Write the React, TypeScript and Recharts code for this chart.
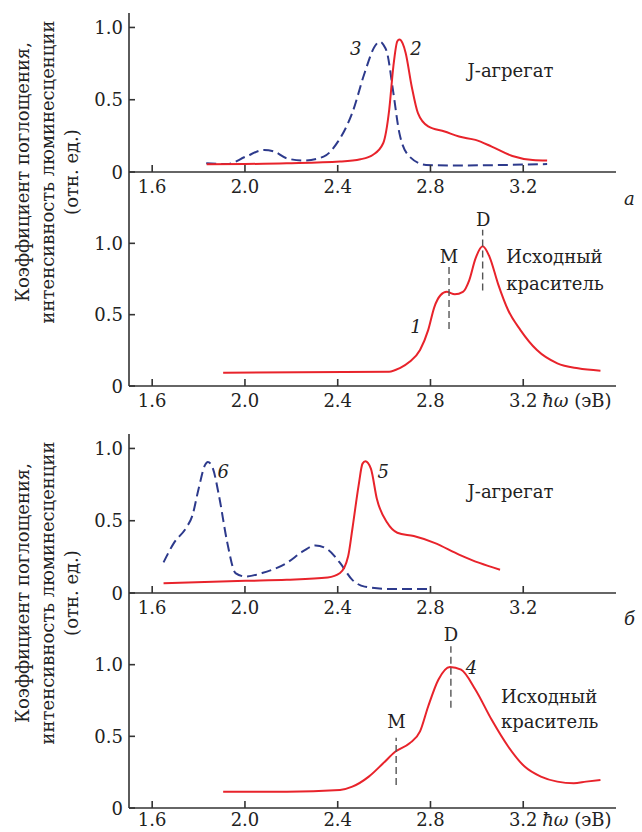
import React from "react";
import { LineChart, Line, XAxis, YAxis, ReferenceLine, ReferenceDot } from "recharts";

const FONT = "'DejaVu Serif', serif";
const FS = 18;
const RED = "#e8232b";
const BLUE = "#2d3a8c";
const INK = "#222";

const xTicks = [1.6, 2.0, 2.4, 2.8, 3.2];
const yTicks = [0, 0.5, 1.0];

// panel a, J-aggregate: curve 3 (dashed) and curve 2
const e3 = [1.833, 1.924, 2.003, 2.083, 2.127, 2.18, 2.251, 2.339, 2.401, 2.463, 2.516, 2.56, 2.575, 2.585, 2.597, 2.613, 2.64, 2.666, 2.71, 2.781, 2.888, 3.303];
const i3 = [0.06, 0.055, 0.106, 0.153, 0.141, 0.095, 0.079, 0.106, 0.21, 0.41, 0.685, 0.87, 0.897, 0.9, 0.88, 0.824, 0.547, 0.269, 0.106, 0.049, 0.045, 0.055];
const e2 = [1.835, 2.18, 2.41, 2.498, 2.551, 2.596, 2.622, 2.64, 2.657, 2.666, 2.68, 2.693, 2.719, 2.746, 2.79, 2.861, 2.923, 2.994, 3.064, 3.153, 3.241, 3.303];
const i2 = [0.053, 0.06, 0.072, 0.088, 0.118, 0.199, 0.43, 0.731, 0.905, 0.917, 0.89, 0.824, 0.592, 0.407, 0.315, 0.28, 0.245, 0.222, 0.176, 0.111, 0.083, 0.079];

// panel a, source dye: curve 1
const e1 = [1.906, 2.622, 2.666, 2.71, 2.755, 2.79, 2.817, 2.843, 2.87, 2.905, 2.94, 2.967, 2.994, 3.025, 3.055, 3.091, 3.135, 3.188, 3.259, 3.347, 3.436, 3.533];
const i1 = [0.093, 0.1, 0.124, 0.17, 0.252, 0.392, 0.555, 0.636, 0.66, 0.643, 0.66, 0.741, 0.893, 0.979, 0.904, 0.718, 0.531, 0.392, 0.252, 0.159, 0.124, 0.107];

// panel б, J-aggregate: curve 6 (dashed) and curve 5
const e6 = [1.649, 1.694, 1.747, 1.773, 1.8, 1.827, 1.84, 1.862, 1.888, 1.924, 1.959, 2.003, 2.074, 2.18, 2.251, 2.304, 2.357, 2.41, 2.463, 2.516, 2.622, 2.799];
const i6 = [0.212, 0.347, 0.452, 0.534, 0.72, 0.883, 0.907, 0.86, 0.673, 0.347, 0.138, 0.114, 0.138, 0.208, 0.289, 0.329, 0.301, 0.208, 0.091, 0.044, 0.028, 0.028];
const e5 = [1.649, 2.003, 2.18, 2.357, 2.41, 2.445, 2.463, 2.49, 2.507, 2.519, 2.543, 2.569, 2.613, 2.657, 2.728, 2.817, 2.923, 3.011, 3.1];
const i5 = [0.068, 0.084, 0.091, 0.107, 0.138, 0.254, 0.441, 0.743, 0.895, 0.911, 0.86, 0.65, 0.487, 0.417, 0.394, 0.347, 0.266, 0.208, 0.161];

// panel б, source dye: curve 4
const e4 = [1.906, 2.18, 2.41, 2.463, 2.534, 2.596, 2.649, 2.71, 2.755, 2.79, 2.834, 2.884, 2.932, 2.994, 3.064, 3.135, 3.206, 3.276, 3.347, 3.418, 3.471, 3.533];
const i4 = [0.114, 0.114, 0.126, 0.149, 0.219, 0.312, 0.394, 0.452, 0.534, 0.708, 0.895, 0.984, 0.965, 0.825, 0.615, 0.429, 0.289, 0.219, 0.184, 0.173, 0.184, 0.196];

const zip = (e: number[], v: number[]) => e.map((x, i) => ({ x, y: v[i] }));

type Series = { data: { x: number; y: number }[]; dashed?: boolean };
type Note = { x: number; y: number; text: string; italic?: boolean; anchor?: "start" | "middle" };
type Mark = { x: number; y1: number; y2: number };

function XTick(props: any) {
  const { x, y, payload, unit, dy } = props;
  const v = payload.value as number;
  return (
    <g>
      <text x={x} y={y + dy} textAnchor="middle" fontSize={FS} fill={INK} fontFamily={FONT}>
        {v.toFixed(1)}
      </text>
      {unit && v === 3.2 && (
        <text x={x + 19} y={y + dy} fontSize={FS} fill={INK} fontFamily={FONT}>
          <tspan fontStyle="italic">ħω</tspan> (эВ)
        </text>
      )}
    </g>
  );
}

function YTick(props: any) {
  const { x, y, payload } = props;
  const v = payload.value as number;
  return (
    <text x={x} y={y + 6.5} textAnchor="end" fontSize={FS} fill={INK} fontFamily={FONT}>
      {v === 0 ? "0" : v.toFixed(1)}
    </text>
  );
}

function Plot(props: {
  top: number;
  padTop: number;
  plotH: number;
  yMax: number;
  series: Series[];
  notes: Note[];
  marks?: Mark[];
  frameTop?: boolean;
  unit?: boolean;
  labelDy?: number;
}) {
  const { top, padTop, plotH, yMax, series, notes, marks = [], frameTop, unit, labelDy = 21 } = props;
  const h = padTop + plotH + 30;
  const axis = { stroke: "#333", strokeWidth: 1.6 };
  return (
    <div style={{ position: "absolute", left: 0, top, width: 642, height: h }}>
      <LineChart width={642} height={h} margin={{ top: padTop, right: 26, bottom: 0, left: 89 }}>
        <XAxis
          type="number"
          dataKey="x"
          domain={[1.5, 3.6]}
          ticks={xTicks}
          height={30}
          axisLine={axis}
          tickLine={axis}
          tickSize={-7}
          tickMargin={7}
          tick={<XTick unit={unit} dy={labelDy} />}
          interval={0}
        />
        {frameTop && (
          <XAxis xAxisId="top" orientation="top" type="number" domain={[1.5, 3.6]} height={0} tick={false} tickLine={false} axisLine={axis} />
        )}
        <YAxis
          type="number"
          domain={[0, yMax]}
          ticks={yTicks}
          width={40}
          axisLine={axis}
          tickLine={axis}
          tickSize={-6}
          tickMargin={12}
          tick={<YTick />}
          interval={0}
        />
        <YAxis yAxisId="right" orientation="right" type="number" domain={[0, 1]} width={0} tick={false} tickLine={false} axisLine={axis} />
        {series.map((s, k) => (
          <Line
            key={k}
            data={s.data}
            dataKey="y"
            type="monotone"
            stroke={s.dashed ? BLUE : RED}
            strokeWidth={2}
            strokeDasharray={s.dashed ? "10 5" : undefined}
            dot={false}
            activeDot={false}
            isAnimationActive={false}
          />
        ))}
        {marks.map((m, k) => (
          <ReferenceLine
            key={"m" + k}
            segment={[{ x: m.x, y: m.y1 }, { x: m.x, y: m.y2 }]}
            stroke="#555"
            strokeWidth={1.4}
            strokeDasharray="7 4"
            ifOverflow="visible"
          />
        ))}
        {notes.map((n, k) => (
          <ReferenceDot
            key={"n" + k}
            x={n.x}
            y={n.y}
            r={0}
            ifOverflow="visible"
            shape={(p: any) => (
              <text
                x={p.cx}
                y={p.cy}
                dy="0.35em"
                textAnchor={n.anchor || "middle"}
                fontSize={FS}
                fontStyle={n.italic ? "italic" : "normal"}
                fill={INK}
                fontFamily={FONT}
              >
                {n.text}
              </text>
            )}
          />
        ))}
      </LineChart>
    </div>
  );
}

function YLabel({ cy }: { cy: number }) {
  return (
    <div
      style={{
        position: "absolute",
        left: 48,
        top: cy,
        transform: "translate(-50%, -50%) rotate(-90deg)",
        whiteSpace: "nowrap",
        textAlign: "center",
        fontFamily: FONT,
        fontSize: FS,
        lineHeight: "24.5px",
        color: INK,
      }}
    >
      Коэффициент поглощения,
      <br />
      интенсивность люминесценции
      <br />
      (отн. ед.)
    </div>
  );
}

export default function App() {
  const tag = { position: "absolute" as const, left: 624, fontFamily: FONT, fontSize: FS, fontStyle: "italic", color: INK };
  return (
    <div style={{ position: "absolute", left: 0, top: 0, width: 642, height: 832, overflow: "hidden", background: "#fff" }}>
      <YLabel cy={172} />
      <YLabel cy={593} />
      <div style={{ ...tag, top: 188 }}>a</div>
      <div style={{ ...tag, top: 608 }}>б</div>

      <Plot
        top={0}
        padTop={13}
        plotH={159}
        yMax={1.1}
        frameTop
        series={[{ data: zip(e3, i3), dashed: true }, { data: zip(e2, i2) }]}
        notes={[
          { x: 2.478, y: 0.85, text: "3", italic: true },
          { x: 2.738, y: 0.85, text: "2", italic: true },
          { x: 2.96, y: 0.7, text: "J-агрегат", anchor: "start" },
        ]}
      />
      <Plot
        top={162}
        padTop={10}
        plotH={214}
        yMax={1.5}
        unit
        series={[{ data: zip(e1, i1) }]}
        marks={[
          { x: 2.88, y1: 0.4, y2: 0.84 },
          { x: 3.025, y1: 0.67, y2: 1.095 },
        ]}
        notes={[
          { x: 2.738, y: 0.415, text: "1", italic: true },
          { x: 2.88, y: 0.906, text: "M" },
          { x: 3.027, y: 1.164, text: "D" },
          { x: 3.127, y: 0.906, text: "Исходный", anchor: "start" },
          { x: 3.127, y: 0.72, text: "краситель", anchor: "start" },
        ]}
      />
      <Plot
        top={421}
        padTop={13}
        plotH={159}
        yMax={1.1}
        frameTop
        series={[{ data: zip(e6, i6), dashed: true }, { data: zip(e5, i5) }]}
        notes={[
          { x: 1.906, y: 0.837, text: "6", italic: true },
          { x: 2.596, y: 0.837, text: "5", italic: true },
          { x: 2.96, y: 0.7, text: "J-агрегат", anchor: "start" },
        ]}
      />
      <Plot
        top={583}
        padTop={10}
        plotH={215}
        yMax={1.5}
        unit
        labelDy={18}
        series={[{ data: zip(e4, i4) }]}
        marks={[
          { x: 2.652, y1: 0.16, y2: 0.49 },
          { x: 2.888, y1: 0.7, y2: 1.128 },
        ]}
        notes={[
          { x: 2.977, y: 0.977, text: "4", italic: true },
          { x: 2.653, y: 0.6, text: "M" },
          { x: 2.888, y: 1.21, text: "D" },
          { x: 3.104, y: 0.776, text: "Исходный", anchor: "start" },
          { x: 3.104, y: 0.6, text: "краситель", anchor: "start" },
        ]}
      />
    </div>
  );
}
